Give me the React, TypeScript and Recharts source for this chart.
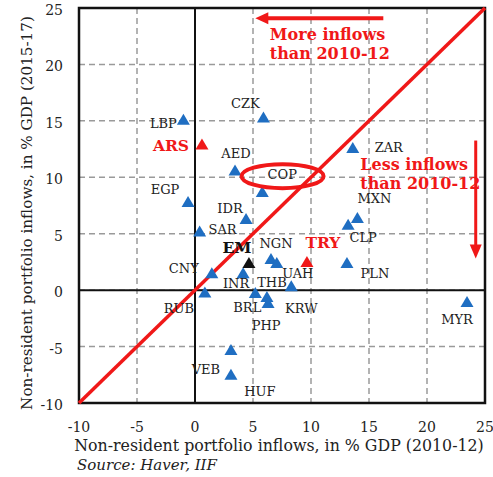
import React from 'react';
import {
  ScatterChart, Scatter, XAxis, YAxis, CartesianGrid, ReferenceLine, ReferenceArea, ReferenceDot,
} from 'recharts';

// 2010-12 (x) vs 2015-17 (y), non-resident portfolio inflows in % of GDP
const blueNames = ['LBP', 'AED', 'EGP', 'IDR', 'SAR', 'CZK', 'ZAR', 'COP', 'MXN', 'CLP', 'NGN', 'UAH', 'PLN', 'CNY', 'INR', 'THB', 'KRW', 'BRL', 'PHP', 'RUB', 'MYR', 'VEB', 'HUF'];
const blueX = [-1.0, 3.45, -0.6, 4.4, 0.4, 5.9, 13.6, 5.8, 14.0, 13.2, 6.55, 7.05, 13.1, 1.45, 4.15, 6.2, 8.3, 5.2, 6.3, 0.85, 23.45, 3.1, 3.1];
const blueY = [15.1, 10.6, 7.8, 6.3, 5.2, 15.3, 12.6, 8.7, 6.4, 5.8, 2.75, 2.4, 2.4, 1.5, 1.5, -0.6, 0.35, -0.25, -1.15, -0.2, -1.05, -5.3, -7.5];

const redNames = ['ARS', 'TRY'];
const redX = [0.6, 9.65];
const redY = [12.9, 2.5];

const emNames = ['EM'];
const emX = [4.65];
const emY = [2.4];

const ticks = [-10, -5, 0, 5, 10, 15, 20, 25];

// label centre offsets from the marker, px
const labelOffsets: Record<string, [number, number]> = {
  LBP: [-20, 4], ARS: [-31, 1], AED: [1, -17], EGP: [-23, -13], IDR: [-16, -11], SAR: [23, -2],
  CZK: [-18, -14], ZAR: [36, 0], COP: [20, -17], MXN: [17, -19], CLP: [15, 13], EM: [-12, -16],
  NGN: [5, -16], TRY: [16, -19], UAH: [21, 10], PLN: [28, 10], CNY: [-28, -5], INR: [-7, 10],
  THB: [5, -14], KRW: [10, 22], BRL: [-8, 15], PHP: [-2, 22], RUB: [-26, 16], MYR: [-10, 18],
  VEB: [-25, 20], HUF: [29, 17],
};

const toRows = (names: string[], xs: number[], ys: number[]) =>
  names.map((name, i) => ({ name, x: xs[i], y: ys[i] }));

const blueData = toRows(blueNames, blueX, blueY);
const redData = toRows(redNames, redX, redY);
const emData = toRows(emNames, emX, emY);

const SERIF = '"DejaVu Serif", serif';
const RED = '#f01818';
const BLUE = '#1f6ec2';

const makeShape = (fill: string, labelColor: string, bold: boolean) => (props: any) => {
  const { cx, cy, payload } = props;
  if (cx == null || cy == null) return <g />;
  const off = labelOffsets[payload.name] || [0, -14];
  return (
    <g>
      <polygon points={`${cx},${cy - 6} ${cx + 6.5},${cy + 5} ${cx - 6.5},${cy + 5}`} fill={fill} />
      <text
        x={cx + off[0]}
        y={cy + off[1]}
        textAnchor="middle"
        dominantBaseline="central"
        fontFamily={SERIF}
        fontSize={bold ? 15.5 : 13}
        fontWeight={bold ? 'bold' : 'normal'}
        fill={labelColor}
      >
        {payload.name}
      </text>
    </g>
  );
};

const XTick = (props: any) => (
  <text x={props.x} y={props.y + 24} textAnchor="middle" dominantBaseline="central" fontFamily={SERIF} fontSize={14} fill="#222">
    {props.payload.value}
  </text>
);

const YTick = (props: any) => (
  <text x={props.x - 16} y={props.y + 2} textAnchor="end" dominantBaseline="central" fontFamily={SERIF} fontSize={14} fill="#222">
    {props.payload.value}
  </text>
);

const Ellipse = (props: any) => (
  <ellipse cx={props.cx} cy={props.cy} rx={41} ry={12} fill="none" stroke={RED} strokeWidth={4} />
);

const LeftArrow = (props: any) => (
  <g>
    <line x1={props.cx + 10} y1={props.cy} x2={props.cx + 128} y2={props.cy} stroke={RED} strokeWidth={4} />
    <polygon points={`${props.cx},${props.cy} ${props.cx + 13},${props.cy - 6} ${props.cx + 13},${props.cy + 6}`} fill={RED} />
  </g>
);

const DownArrow = (props: any) => (
  <g>
    <line x1={props.cx} y1={props.cy - 118} x2={props.cx} y2={props.cy - 10} stroke={RED} strokeWidth={3} />
    <polygon points={`${props.cx},${props.cy} ${props.cx - 6},${props.cy - 14} ${props.cx + 6},${props.cy - 14}`} fill={RED} />
  </g>
);

const Note = (lines: string[]) => (props: any) => (
  <text x={props.cx} y={props.cy} fontFamily={SERIF} fontSize={16} fontWeight="bold" fill={RED} dominantBaseline="central">
    {lines.map((l, i) => (
      <tspan key={l} x={props.cx} dy={i === 0 ? 0 : 19}>{l}</tspan>
    ))}
  </text>
);

export default function App() {
  return (
    <div style={{ position: 'relative', width: 493, height: 477, background: '#fff' }}>
      <style>{'body{margin:0}'}</style>
      <ScatterChart width={493} height={477} margin={{ top: 8, right: 8, bottom: 0, left: 0 }}>
        <CartesianGrid stroke="#9a9a9a" strokeDasharray="6 4" strokeWidth={1.5} />
        <XAxis
          type="number"
          dataKey="x"
          domain={[-10, 25]}
          ticks={ticks}
          height={74}
          axisLine={false}
          tickLine={false}
          tickSize={0}
          tickMargin={0}
          tick={<XTick />}
          interval={0}
        />
        <YAxis
          type="number"
          dataKey="y"
          domain={[-10, 25]}
          ticks={ticks}
          width={79}
          axisLine={false}
          tickLine={false}
          tickSize={0}
          tickMargin={0}
          tick={<YTick />}
          interval={0}
        />
        <ReferenceArea x1={-10} x2={25} y1={-10} y2={25} fill="none" fillOpacity={0} stroke="#111" strokeWidth={2.5} />
        <ReferenceLine x={0} stroke="#111" strokeWidth={2} />
        <ReferenceLine y={0} stroke="#111" strokeWidth={2} />
        <ReferenceLine segment={[{ x: -10, y: -10 }, { x: 25, y: 25 }]} stroke={RED} strokeWidth={3.5} />
        <Scatter data={blueData} shape={makeShape(BLUE, '#222', false)} isAnimationActive={false} />
        <Scatter data={redData} shape={makeShape(RED, RED, true)} isAnimationActive={false} />
        <Scatter data={emData} shape={makeShape('#111', '#111', true)} isAnimationActive={false} />
        <ReferenceDot x={7.55} y={10.1} shape={Ellipse} />
        <ReferenceDot x={5.2} y={24.1} shape={LeftArrow} />
        <ReferenceDot x={24.2} y={2.8} shape={DownArrow} />
        <ReferenceDot x={6.45} y={22.7} shape={Note(['More inflows', 'than 2010-12'])} />
        <ReferenceDot x={14.25} y={11.2} shape={Note(['Less inflows', 'than 2010-12'])} />
      </ScatterChart>
      <svg width={493} height={477} style={{ position: 'absolute', left: 0, top: 0, pointerEvents: 'none' }}>
        <text
          transform="translate(27,213) rotate(-90)"
          textAnchor="middle"
          dominantBaseline="central"
          fontFamily={SERIF}
          fontSize={15.2}
          fill="#222"
        >
          Non-resident portfolio inflows, in % GDP (2015-17)
        </text>
        <text x={279} y={445} textAnchor="middle" dominantBaseline="central" fontFamily={SERIF} fontSize={15.8} fill="#222">
          Non-resident portfolio inflows, in % GDP (2010-12)
        </text>
        <text x={77} y={465} dominantBaseline="central" fontFamily={SERIF} fontSize={15} fontStyle="italic" fill="#222">
          Source: Haver, IIF
        </text>
      </svg>
    </div>
  );
}
